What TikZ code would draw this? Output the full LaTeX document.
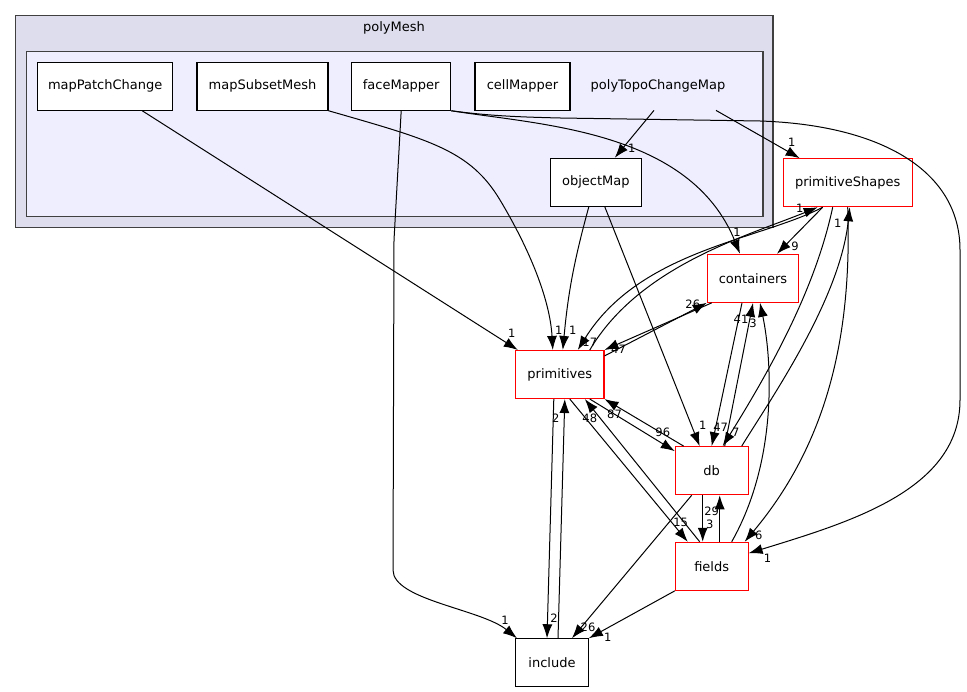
\documentclass[tikz,border=0pt]{standalone}
\usepackage{fontspec}
\setmainfont{DejaVu Sans}
\usetikzlibrary{arrows.meta}
\definecolor{outerfill}{HTML}{DDDDEE}
\definecolor{innerfill}{HTML}{EEEEFF}
\definecolor{clusterline}{HTML}{404040}
\tikzset{
  dir/.style={draw, fill=white, line width=1.1pt, minimum height=48pt, inner sep=0pt, font=\fontsize{13}{15}\selectfont},
  reddir/.style={dir, draw=red},
  lbl/.style={font=\fontsize{11.5}{13}\selectfont, inner sep=0pt},
  dep/.style={->, >={Latex[length=14pt, width=10pt]}, line width=1pt},
}
\begin{document}
\begin{tikzpicture}[x=1pt, y=-1pt]
  \useasboundingbox (0,0) rectangle (967,692);
  % polyMesh cluster
  \draw[fill=outerfill, draw=clusterline, line width=1.2pt] (15.7,15.7) rectangle (773,227.7);
  \node[font=\fontsize{13}{15}\selectfont] (pm) at (394,27.7) {polyMesh};
  \draw[fill=innerfill, draw=clusterline, line width=1.2pt] (26.3,51.7) rectangle (763,216.7);

  \node[dir, minimum width=135pt] (mpc) at (105.2,86.2) {mapPatchChange};
  \node[dir, minimum width=131pt] (msm) at (262.5,86.2) {mapSubsetMesh};
  \node[dir, minimum width=99pt] (fm) at (401.2,86.2) {faceMapper};
  \node[dir, minimum width=95pt] (cm) at (522.5,86.2) {cellMapper};
  \node[minimum width=125pt, minimum height=48pt, inner sep=0pt, font=\fontsize{13}{15}\selectfont] (ptcm) at (658,86.2) {polyTopoChangeMap};
  \node[dir, minimum width=91pt] (om) at (595.8,182.3) {objectMap};

  \node[reddir, minimum width=128.7pt] (pshapes) at (847.7,182.7) {primitiveShapes};
  \node[reddir, minimum width=91.4pt] (cont) at (753,278.3) {containers};
  \node[reddir, minimum width=88.3pt] (prim) at (559.8,374.5) {primitives};
  \node[reddir, minimum width=72.7pt] (db) at (711.7,470.7) {db};
  \node[reddir, minimum width=72.7pt] (fields) at (711.7,566.3) {fields};
  \node[dir, minimum width=72.6pt] (incl) at (552,662.8) {include};

  % out of polyMesh
  \draw[dep] ([xshift=37pt]mpc.south) -- ([xshift=-42pt]prim.north) node[lbl, xshift=-6pt, yshift=17pt] {1};
  \draw[dep] (msm.south east) .. controls (430,140) and (470,150) .. (500,200) .. controls (530,250) and (550,300) .. ([xshift=-7pt]prim.north) node[lbl, xshift=6pt, yshift=20pt] {1};
  \draw[dep] (fm.south) -- (394,240) -- (393,570) .. controls (393,600) and (481,609) .. ([xshift=-35pt]incl.north) node[lbl, xshift=-12pt, yshift=18pt] {1};
  \draw[dep] (fm.south east) .. controls (540,125) and (690,130) .. ([xshift=-13pt]cont.north) node[lbl, xshift=-3pt, yshift=21pt] {1};
  \draw[dep] (fm.south east) .. controls (490,116) and (520,117) .. (560,118) -- (760,121) .. controls (880,125) and (960,170) .. (960,250) -- (960,400) .. controls (960,490) and (850,522) .. ([yshift=13pt]fields.east) node[lbl, xshift=19pt, yshift=-5pt] {1};
  \draw[dep] ([xshift=-4pt]ptcm.south) -- ([xshift=19pt]om.north) node[lbl, xshift=17pt, yshift=9pt] {1};
  \draw[dep] ([xshift=58pt]ptcm.south) -- ([xshift=-48pt]pshapes.north) node[lbl, xshift=-8pt, yshift=16pt] {1};
  \draw[dep] ([xshift=-7pt]om.south) to[bend right=5] ([xshift=3pt]prim.north) node[lbl, xshift=10pt, yshift=20pt] {1};
  \draw[dep] ([xshift=9pt]om.south) -- ([xshift=-12pt]db.north) node[lbl, xshift=3pt, yshift=21pt] {1};

  % primitiveShapes and containers
  \draw[dep] ([xshift=30pt]prim.north) .. controls (640,265) and (750,235) .. ([xshift=-30pt]pshapes.south) node[lbl, xshift=-18pt, yshift=-1pt] {1};
  \draw[dep] ([xshift=-25pt]pshapes.south) .. controls (760,240) and (640,250) .. ([xshift=18pt]prim.north) node[lbl, xshift=12pt, yshift=8pt] {17};
  \draw[dep] ([xshift=-25pt]pshapes.south) -- ([xshift=24pt]cont.north) node[lbl, xshift=18pt, yshift=7pt] {9};
  \draw[dep] ([xshift=5pt]cont.south west) -- (prim.north east) node[lbl, xshift=14pt, yshift=1pt] {47};
  \draw[dep] ([yshift=-6pt]prim.north east) -- (cont.south west) node[lbl, xshift=-14pt, yshift=-1pt] {26};
  \draw[dep] ([xshift=-11pt]cont.south) -- (db.north) node[lbl, xshift=9pt, yshift=19pt] {47};
  \draw[dep] ([xshift=13pt]db.north) -- (cont.south) node[lbl, xshift=-12pt, yshift=-16pt] {41};
  \draw[dep] ([xshift=20pt]fields.north) .. controls (778,460) and (772,360) .. ([xshift=7pt]cont.south) node[lbl, xshift=-7pt, yshift=-20pt] {3};
  \draw[dep] ([xshift=-15pt]pshapes.south) .. controls (815,290) and (770,370) .. ([xshift=11pt]db.north) node[lbl, xshift=13pt, yshift=14pt] {7};
  \draw[dep] ([xshift=30pt]db.north) .. controls (770,400) and (840,300) .. ([xshift=2pt]pshapes.south) node[lbl, xshift=-12pt, yshift=-16pt] {1};
  \draw[dep] (pshapes.south) .. controls (852,330) and (830,440) .. ([xshift=33pt]fields.north) node[lbl, xshift=14pt, yshift=6pt] {6};

  % primitives, db, fields
  \draw[dep] ([xshift=30pt]prim.south) -- ([yshift=-5pt]db.north west) node[lbl, xshift=-12pt, yshift=19pt] {96};
  \draw[dep] ([xshift=-28pt]db.north) -- (prim.south east) node[lbl, xshift=10pt, yshift=-15pt] {87};
  \draw[dep] ([xshift=10pt]prim.south) -- ([xshift=-24pt]fields.north) node[lbl, xshift=-7pt, yshift=19pt] {15};
  \draw[dep] ([xshift=-12pt]fields.north) -- ([xshift=25pt]prim.south) node[lbl, xshift=5pt, yshift=-19pt] {48};
  \draw[dep] ([xshift=-9pt]db.south) -- ([xshift=-9pt]fields.north) node[lbl, xshift=7pt, yshift=17pt] {3};
  \draw[dep] ([xshift=8pt]fields.north) -- ([xshift=8pt]db.south) node[lbl, xshift=-8pt, yshift=-16pt] {29};

  % include
  \draw[dep] ([xshift=-6pt]prim.south) -- ([xshift=-5pt]incl.north) node[lbl, xshift=7pt, yshift=20pt] {2};
  \draw[dep] ([xshift=6pt]incl.north) -- ([xshift=5pt]prim.south) node[lbl, xshift=-9pt, yshift=-19pt] {2};
  \draw[dep] ([xshift=-20pt]db.south) -- ([xshift=20pt]incl.north) node[lbl, xshift=16pt, yshift=11pt] {26};
  \draw[dep] (fields.south west) -- (incl.north east) node[lbl, xshift=19pt, yshift=1pt] {1};
\end{tikzpicture}
\end{document}
